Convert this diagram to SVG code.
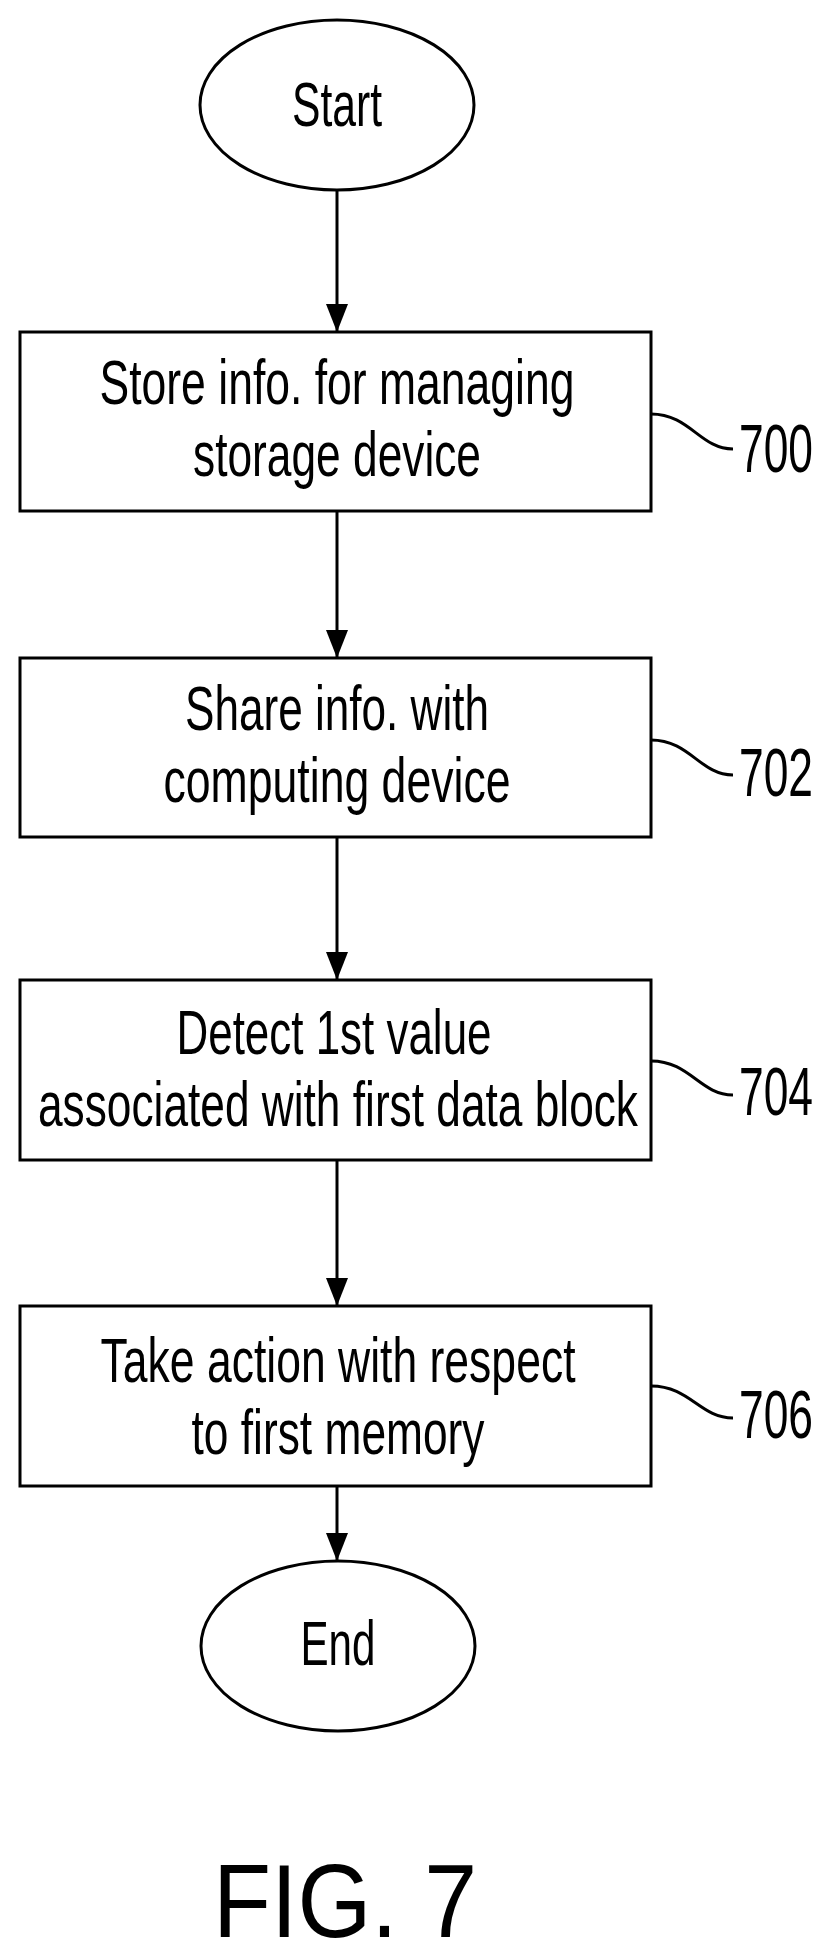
<svg xmlns="http://www.w3.org/2000/svg" width="832" height="1955" viewBox="0 0 832 1955">
<style>
.s{fill:#fff;stroke:#000;stroke-width:3}
.t{font-family:"Liberation Sans",Arial,sans-serif;font-size:63px;text-anchor:middle;fill:#000}
.l{font-family:"Liberation Sans",Arial,sans-serif;font-size:68px;fill:#000}
.c{fill:none;stroke:#000;stroke-width:3}
</style>
<defs>
<marker id="ah" markerWidth="28" markerHeight="22" refX="28" refY="11" orient="auto" markerUnits="userSpaceOnUse"><path d="M0,0L28,11L0,22Z" fill="#000"/></marker></defs>
<g id="connectors">
<line class="c" x1="337" y1="190" x2="337" y2="332" marker-end="url(#ah)"/>
<line class="c" x1="337" y1="511" x2="337" y2="658" marker-end="url(#ah)"/>
<line class="c" x1="337" y1="837" x2="337" y2="980" marker-end="url(#ah)"/>
<line class="c" x1="337" y1="1160" x2="337" y2="1306" marker-end="url(#ah)"/>
<line class="c" x1="337" y1="1486" x2="337" y2="1561" marker-end="url(#ah)"/>
<path class="c" d="M651,414 C690,414 700,449 733,449"/>
<path class="c" d="M651,740 C690,740 700,775 733,775"/>
<path class="c" d="M651,1061 C690,1061 700,1095 733,1095"/>
<path class="c" d="M651,1386 C690,1386 700,1418 733,1418"/>
</g>
<g id="start"><ellipse class="s" cx="337" cy="105" rx="137" ry="85"/><text class="t" x="337" y="126" textLength="90" lengthAdjust="spacingAndGlyphs">Start</text></g>
<g id="n700"><rect class="s" x="20" y="332" width="631" height="179"/>
<text class="t" x="337" y="404" textLength="475" lengthAdjust="spacingAndGlyphs">Store info. for managing</text>
<text class="t" x="337" y="476" textLength="288" lengthAdjust="spacingAndGlyphs">storage device</text>
<text class="l" x="739" y="472" textLength="74" lengthAdjust="spacingAndGlyphs">700</text></g>
<g id="n702"><rect class="s" x="20" y="658" width="631" height="179"/>
<text class="t" x="337" y="730" textLength="304" lengthAdjust="spacingAndGlyphs">Share info. with</text>
<text class="t" x="337" y="802" textLength="347" lengthAdjust="spacingAndGlyphs">computing device</text>
<text class="l" x="739" y="796" textLength="74" lengthAdjust="spacingAndGlyphs">702</text></g>
<g id="n704"><rect class="s" x="20" y="980" width="631" height="180"/>
<text class="t" x="334" y="1054" textLength="315" lengthAdjust="spacingAndGlyphs">Detect 1st value</text>
<text class="t" x="338" y="1126" textLength="600" lengthAdjust="spacingAndGlyphs">associated with first data block</text>
<text class="l" x="739" y="1115" textLength="74" lengthAdjust="spacingAndGlyphs">704</text></g>
<g id="n706"><rect class="s" x="20" y="1306" width="631" height="180"/>
<text class="t" x="338" y="1382" textLength="475" lengthAdjust="spacingAndGlyphs">Take action with respect</text>
<text class="t" x="338" y="1454" textLength="293" lengthAdjust="spacingAndGlyphs">to first memory</text>
<text class="l" x="739" y="1438" textLength="74" lengthAdjust="spacingAndGlyphs">706</text></g>
<g id="end"><ellipse class="s" cx="338" cy="1646" rx="137" ry="85"/><text class="t" x="338" y="1665" textLength="75" lengthAdjust="spacingAndGlyphs">End</text></g>
<text x="345" y="1937" font-family="Liberation Sans,Arial,sans-serif" font-size="104" text-anchor="middle" textLength="264" lengthAdjust="spacingAndGlyphs">FIG. 7</text>
</svg>
